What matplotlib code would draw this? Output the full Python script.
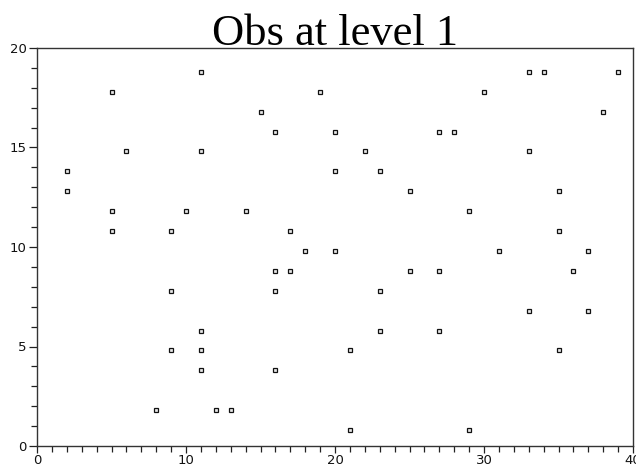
import matplotlib
matplotlib.use("Agg")
import matplotlib.pyplot as plt
from matplotlib.ticker import MultipleLocator

# Observation positions at level 1 (column, row)
obs_x = [2, 2, 5, 5, 5, 6, 8, 9, 9, 9, 10, 11, 11, 11, 11, 11, 12, 13, 14, 15,
         16, 16, 16, 16, 17, 17, 18, 19, 20, 20, 20, 21, 21, 22, 23, 23, 23,
         25, 25, 27, 27, 27, 28, 29, 29, 30, 31, 33, 33, 33, 34, 35, 35, 35,
         36, 37, 37, 38, 39]
obs_y = [13.8, 12.8, 17.8, 11.8, 10.8, 14.8, 1.8, 10.8, 7.8, 4.8, 11.8, 18.8,
         14.8, 5.8, 4.8, 3.8, 1.8, 1.8, 11.8, 16.8, 15.8, 8.8, 7.8, 3.8, 10.8,
         8.8, 9.8, 17.8, 15.8, 13.8, 9.8, 4.8, 0.8, 14.8, 13.8, 7.8, 5.8, 12.8,
         8.8, 15.8, 8.8, 5.8, 15.8, 11.8, 0.8, 17.8, 9.8, 18.8, 14.8, 6.8, 18.8,
         12.8, 10.8, 4.8, 8.8, 9.8, 6.8, 16.8, 18.8]

title_text = "Obs at level 1"
x_limits = (0, 40)
y_limits = (0, 20)

W, H = 636, 468
fig = plt.figure(figsize=(W / 100, H / 100), dpi=100)
ax = fig.add_axes([37 / W, 1 - 446 / H, (633 - 37) / W, (446 - 48) / H])

ax.plot(obs_x, obs_y, linestyle="none", marker="s", markersize=3.4,
        markerfacecolor="#e8e8e8", markeredgecolor="#111111", markeredgewidth=0.9)

ax.set_xlim(*x_limits)
ax.set_ylim(*y_limits)
ax.xaxis.set_major_locator(MultipleLocator(10))
ax.xaxis.set_minor_locator(MultipleLocator(1))
ax.yaxis.set_major_locator(MultipleLocator(5))
ax.yaxis.set_minor_locator(MultipleLocator(1))

for side in ax.spines.values():
    side.set_color("#333333")
    side.set_linewidth(1.0)

ax.tick_params(which="both", direction="out", color="#222222", width=0.9,
               top=False, right=False)
ax.tick_params(which="major", length=6, labelsize=9.5, pad=1.5,
               labelcolor="#111111")
ax.tick_params(which="minor", length=4)
ax.tick_params(axis="x", which="major", length=5, pad=0.5)

fig.text(335 / W, 1 - 45 / H, title_text, fontfamily="Liberation Serif",
         fontsize=32, ha="center", va="baseline", color="black")

fig.savefig("out.png", dpi=100)
